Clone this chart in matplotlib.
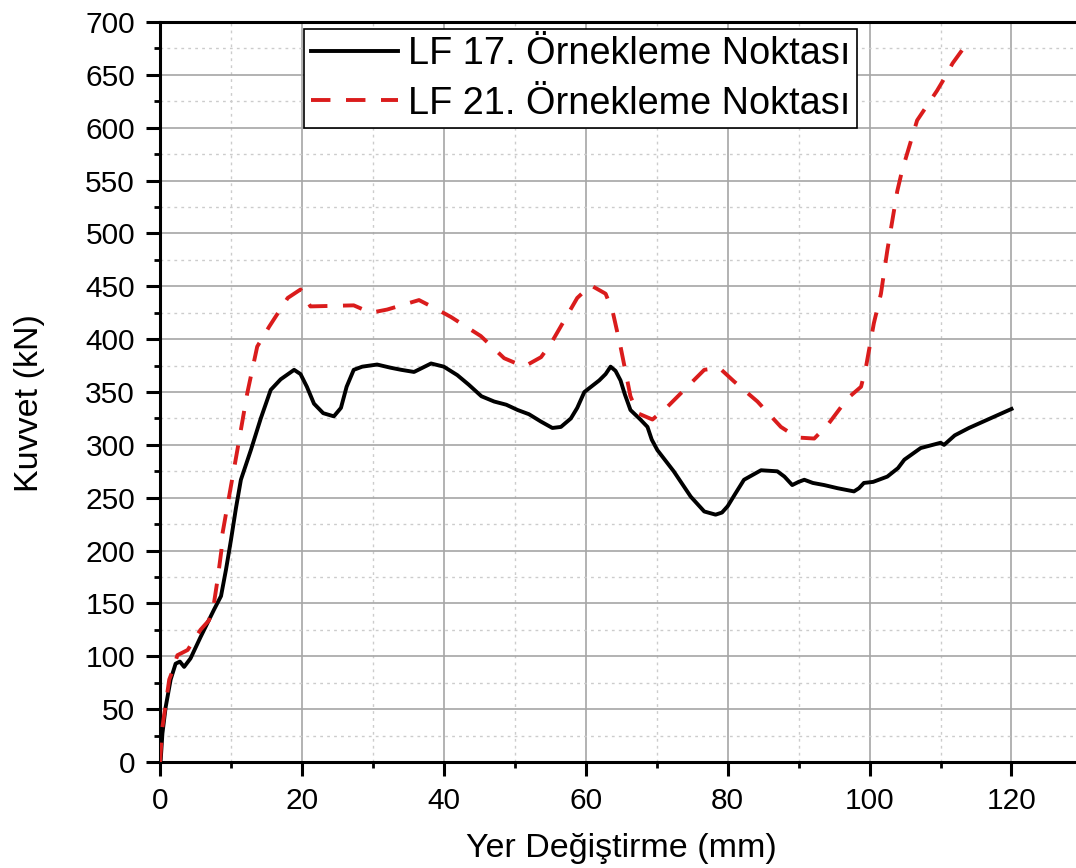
import matplotlib
matplotlib.use("Agg")
import matplotlib.pyplot as plt
from matplotlib.ticker import MultipleLocator

plt.rcParams['font.family'] = ['Liberation Sans', 'DejaVu Sans']

# Displacement (mm) and force (kN) for sampling point LF 17
lf17_x = [0, 0.1, 0.34, 0.8, 1.5, 2.2, 2.8, 3.4, 4.3, 5.7, 7.6, 8.6, 9.3, 10.0,
          10.7, 11.4, 12.8, 14.2, 15.6, 17.0, 18.9, 19.8, 20.7, 21.7, 23.0, 24.5,
          25.5, 26.3, 27.3, 28.5, 30.6, 32.5, 34.0, 35.8, 37.0, 38.2, 40.0, 41.9,
          43.5, 45.3, 47.1, 48.8, 50.4, 52.0, 53.7, 55.3, 56.5, 57.9, 58.8, 59.8,
          61.9, 62.8, 63.5, 64.2, 64.9, 65.5, 66.3, 67.7, 68.7, 69.3, 70.1, 72.4,
          74.8, 76.7, 78.3, 79.2, 80.0, 81.0, 82.3, 84.7, 87.0, 88.0, 89.1, 90.0,
          90.8, 92.0, 93.6, 95.5, 97.8, 98.5, 99.2, 100.5, 102.5, 104.0, 104.9,
          107.2, 110.0, 110.5, 112.0, 114.0, 116.0, 118.0, 120.0]
lf17_y = [0, 2, 27, 52, 78, 93, 95, 90, 98, 118, 144, 157, 182, 210,
          240, 267, 295, 325, 352, 362, 371, 367, 355, 339, 330, 327,
          335, 355, 371, 374, 376, 373, 371, 369, 373, 377, 374, 366,
          357, 346, 341, 338, 333, 329, 322, 316, 317, 325, 335, 350,
          361, 367, 374, 370, 361, 348, 333, 324, 317, 305, 295, 275,
          251, 237, 234, 236, 242, 253, 267, 276, 275, 270, 262, 265,
          267, 264, 262, 259, 256, 259, 264, 265, 270, 278, 286,
          297, 302, 300, 309, 316, 322, 328, 334]

# Displacement (mm) and force (kN) for sampling point LF 21
lf21_x = [0, 0.34, 1.3, 1.7, 2.45, 3.9, 5.7, 6.9, 7.6, 8.1, 8.65, 8.8, 10.9,
          12.3, 13.7, 15.4, 18.0, 19.8, 21.2, 27.3, 29.7, 32.0, 36.5, 39.1, 41.0,
          45.2, 48.5, 51.3, 53.7, 55.1, 58.8, 60.7, 62.8, 63.8, 64.9, 66.3, 67.3,
          69.4, 71.5, 76.7, 78.8, 80.9, 84.2, 87.5, 89.8, 92.2, 94.1, 96.9, 98.8,
          99.5, 100.6, 101.6, 102.5, 103.9, 104.6, 106.7, 109.5, 110.3, 111.7,
          113.1, 114.5]
lf21_y = [0, 33, 78, 85, 101, 106, 125, 134, 150, 172, 200, 216, 295,
          349, 393, 412, 439, 447, 431, 432, 425, 428, 437, 428, 421,
          403, 382, 374, 383, 396, 439, 451, 443, 426, 393, 346, 330,
          324, 336, 371, 373, 360, 341, 317, 307, 306, 319, 344, 355,
          374, 415, 443, 484, 540, 560, 607, 635, 644, 661,
          674, 668]

series_labels = ['LF 17. Örnekleme Noktası', 'LF 21. Örnekleme Noktası']

fig = plt.figure(figsize=(10.76, 8.68), dpi=100)
ax = fig.add_axes([0.1487, 0.1221, 0.8573, 0.8525])

ax.plot(lf17_x, lf17_y, color='black', lw=2.8, label=series_labels[0], zorder=3)
ax.plot(lf21_x, lf21_y, color='#da1c1c', lw=2.8, dashes=(5, 4),
        label=series_labels[1], zorder=3)

ax.set_xlim(0, 130)
ax.set_ylim(0, 700)
ax.xaxis.set_major_locator(MultipleLocator(20))
ax.xaxis.set_minor_locator(MultipleLocator(10))
ax.yaxis.set_major_locator(MultipleLocator(50))
ax.yaxis.set_minor_locator(MultipleLocator(25))

ax.grid(which='major', color='#a6a6a6', lw=1.2, ls='-', zorder=0)
ax.grid(which='minor', color='#cccccc', lw=1.0, ls=(0, (2, 3)), zorder=0)
ax.set_axisbelow(True)

for side in ['left', 'bottom', 'top']:
    ax.spines[side].set_linewidth(2.2)
ax.spines['right'].set_visible(False)

ax.tick_params(which='major', direction='out', length=10, width=2.2,
               labelsize=21.5, pad=8)
ax.tick_params(which='minor', direction='out', length=4.5, width=2.0)
ax.tick_params(top=False, right=False)

ax.set_xlabel('Yer Değiştirme (mm)', fontsize=24.5, labelpad=13)
ax.set_ylabel('Kuvvet (kN)', fontsize=24.5)
ax.yaxis.set_label_coords(-0.125, 0.485)

leg = ax.legend(loc='upper left', bbox_to_anchor=(0.156, 0.9905),
                borderaxespad=0, fontsize=27.3, fancybox=False,
                framealpha=1, edgecolor='black', handlelength=2.3,
                handletextpad=0.26, borderpad=0.18, labelspacing=0.36)
leg.get_frame().set_linewidth(1.2)

fig.savefig('out.png', dpi=100)
